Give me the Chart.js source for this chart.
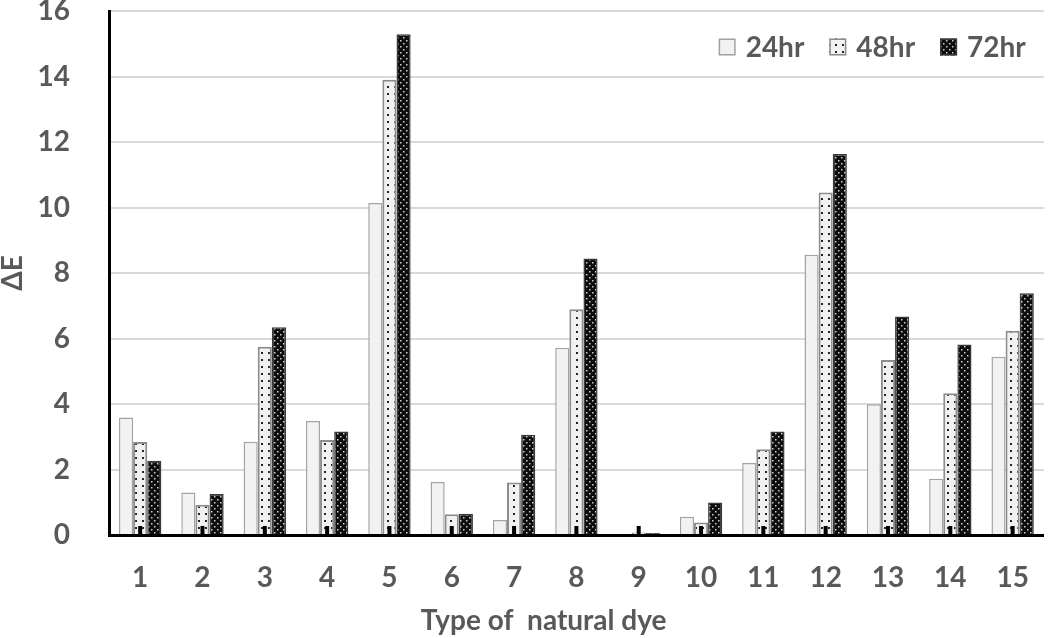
<!DOCTYPE html>
<html>
<head>
<meta charset="utf-8">
<script src="https://cdn.jsdelivr.net/npm/chart.js@4/dist/chart.umd.min.js"></script>
<style>
  html, body { margin: 0; padding: 0; background: #ffffff; }
  #wrap { width: 1055px; height: 638px; position: relative; }
</style>
</head>
<body>
<div id="wrap"><canvas id="c" width="1055" height="638"></canvas></div>
<script>
const categories = ['1','2','3','4','5','6','7','8','9','10','11','12','13','14','15'];
const seriesNames = ['24hr', '48hr', '72hr'];
const values24 = [3.59, 1.30, 2.85, 3.48, 10.14, 1.62, 0.46, 5.72, 0.04, 0.56, 2.20, 8.56, 3.99, 1.72, 5.44];
const values48 = [2.84, 0.92, 5.75, 2.90, 13.90, 0.63, 1.60, 6.89, 0.08, 0.38, 2.62, 10.46, 5.34, 4.33, 6.24];
const values72 = [2.27, 1.25, 6.34, 3.16, 15.29, 0.65, 3.06, 8.44, 0.06, 0.99, 3.16, 11.63, 6.67, 5.82, 7.38];
const yTicks = [0, 2, 4, 6, 8, 10, 12, 14, 16];
const xTitle = 'Type of  natural dye';
const yTitle = 'ΔE';

const FONT = 'Lato, "Open Sans", sans-serif';
const TXT = '#595959';

function makePattern(bg, dot, w, h, dots, size) {
  const c = document.createElement('canvas');
  c.width = w; c.height = h;
  const g = c.getContext('2d');
  g.fillStyle = bg; g.fillRect(0, 0, w, h);
  g.fillStyle = dot;
  dots.forEach(d => g.fillRect(d[0], d[1], size, size));
  return document.getElementById('c').getContext('2d').createPattern(c, 'repeat');
}
const pat48 = makePattern('#f1f1f1', '#222222', 7, 7, [[2, 2]], 2);
const pat72 = makePattern('#0d0d0d', '#d0d0d0', 6, 6, [[1, 1], [4, 4]], 1.5);

const catTicks = {
  id: 'catTicks',
  afterDatasetsDraw(chart) {
    const x = chart.scales.x, ctx = chart.ctx;
    const bottom = chart.chartArea.bottom;
    ctx.save();
    ctx.fillStyle = '#000';
    categories.forEach((c, i) => {
      const px = x.getPixelForValue(i);
      ctx.fillRect(px - 2, bottom - 9, 4, 9);
    });
    ctx.restore();
  }
};

const xTitlePlugin = {
  id: 'xTitlePlugin',
  afterDraw(chart) {
    const ctx = chart.ctx;
    ctx.save();
    ctx.font = 'bold 28px ' + FONT;
    ctx.fillStyle = TXT;
    ctx.textAlign = 'center';
    ctx.textBaseline = 'alphabetic';
    const ca = chart.chartArea;
    ctx.fillText(xTitle, ca.left + (ca.right - ca.left) * 0.465, chart.height - 8);
    ctx.restore();
  }
};

const insideLegend = {
  id: 'insideLegend',
  afterDraw(chart) {
    const ctx = chart.ctx;
    ctx.save();
    ctx.font = 'bold 28px ' + FONT;
    const box = 17, gapText = 10, gapItem = 25;
    const widths = chart.data.datasets.map(d => ctx.measureText(d.label).width);
    let total = 0;
    widths.forEach((w, i) => { total += box + gapText + w + (i < widths.length - 1 ? gapItem : 0); });
    let x = chart.chartArea.right - 18 - total;
    const cy = chart.chartArea.top + 36;
    chart.data.datasets.forEach((d, i) => {
      ctx.fillStyle = d.backgroundColor;
      ctx.fillRect(x, cy - box / 2, box, box);
      ctx.strokeStyle = d.borderColor;
      ctx.lineWidth = 1.5;
      ctx.strokeRect(x + 0.75, cy - box / 2 + 0.75, box - 1.5, box - 1.5);
      x += box + gapText;
      ctx.fillStyle = TXT;
      ctx.textBaseline = 'middle';
      ctx.textAlign = 'left';
      ctx.fillText(d.label, x, cy + 1);
      x += widths[i] + gapItem;
    });
    ctx.restore();
  }
};

new Chart(document.getElementById('c'), {
  type: 'bar',
  data: {
    labels: categories,
    datasets: [
      { label: seriesNames[0], data: values24, backgroundColor: '#f2f2f2', borderColor: '#a3a3a3', borderWidth: 1.5 },
      { label: seriesNames[1], data: values48, backgroundColor: pat48, borderColor: '#8c8c8c', borderWidth: 2 },
      { label: seriesNames[2], data: values72, backgroundColor: pat72, borderColor: '#3a3a3a', borderWidth: 1.5 }
    ]
  },
  options: {
    responsive: false,
    animation: false,
    devicePixelRatio: 1,
    layout: { padding: { left: 0, right: 4, top: 0, bottom: 0 } },
    datasets: { bar: { categoryPercentage: 0.68, barPercentage: 1.0 } },
    plugins: { legend: { display: false }, tooltip: { enabled: false } },
    scales: {
      x: {
        grid: { display: false, drawTicks: false },
        border: { color: '#000000', width: 3 },
        ticks: { color: TXT, font: { family: FONT, size: 28, weight: 'bold' }, padding: 26, maxRotation: 0 },
        title: { display: false },
        afterFit(s) { s.height = 103; }
      },
      y: {
        min: 0, max: 16,
        afterBuildTicks(s) { s.ticks = yTicks.map(v => ({ value: v })); },
        grid: { color: '#d9d9d9', lineWidth: 2, drawTicks: false },
        border: { color: '#000000', width: 3 },
        ticks: { color: TXT, font: { family: FONT, size: 28, weight: 'bold' }, padding: 39 },
        title: { display: true, text: yTitle, color: TXT, font: { family: FONT, size: 28, weight: 'bold' }, padding: { top: -4, bottom: 0 } },
        afterFit(s) { s.width = 109; s.paddingTop = 11; s.paddingBottom = 0; }
      }
    }
  },
  plugins: [catTicks, insideLegend, xTitlePlugin]
});
</script>
</body>
</html>
